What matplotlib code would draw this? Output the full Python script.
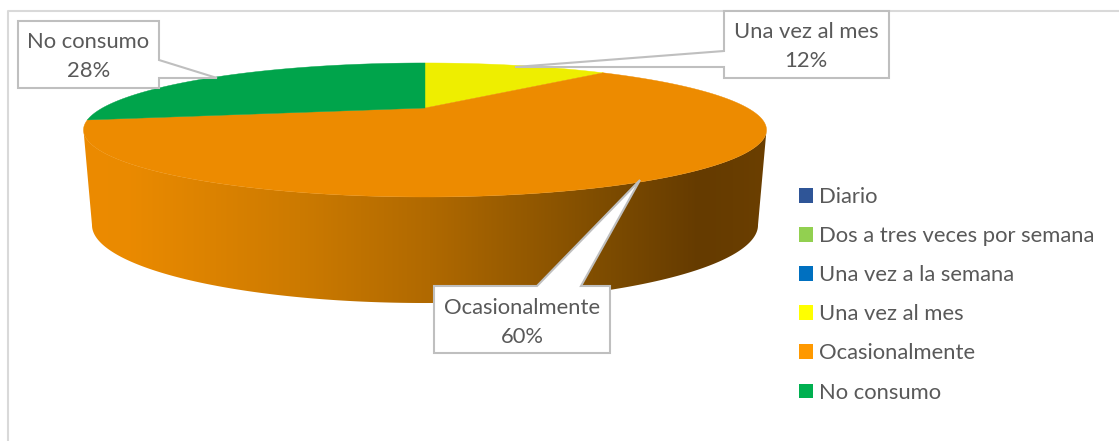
import numpy as np
import matplotlib
matplotlib.use('Agg')
import matplotlib.pyplot as plt
from matplotlib.patches import Polygon, Patch

plt.rcParams['font.family'] = ['Lato', 'DejaVu Sans']

categories = ['Diario', 'Dos a tres veces por semana', 'Una vez a la semana',
              'Una vez al mes', 'Ocasionalmente', 'No consumo']
values = [0, 0, 0, 12, 60, 28]
legend_colors = ['#2F5597', '#92D050', '#0070C0', '#FFFF00', '#FF9900', '#00B050']
top_colors = ['#2F5597', '#92D050', '#0070C0', '#EEEE00', '#ED8B00', '#00A44B']

# gradient of the pie wall, left to right
wall_x = [84, 130, 300, 430, 600, 700, 767]
wall_rgb = np.array([[236, 139, 0], [234, 138, 0], [204, 122, 0], [176, 105, 0],
                     [127, 77, 0], [101, 59, 0], [107, 63, 0]]) / 255

TEXT = '#595959'
EDGE = '#BFBFBF'
FS = 15.8

fig = plt.figure(figsize=(11.19, 4.41), dpi=100)
ax = fig.add_axes([0, 0, 1, 1])
ax.set_xlim(0, 1119)
ax.set_ylim(441, 0)
ax.axis('off')

# chart frame
ax.plot([8, 8, 1119], [441, 11, 11], color='#D9D9D9', lw=1.5, zorder=1)


def project(frac, cy, a, b, k):
    # frac = share of the circle, clockwise from the far point
    ang = 2 * np.pi * np.asarray(frac)
    x, y = np.sin(ang), np.cos(ang)
    d = 1 + k * y
    return 425 + a * x / d, cy - b * y / d


top = dict(cy=108, a=322.6, b=59.8, k=0.328)
bot = dict(cy=208, a=325, b=74.3, k=0.218)

# wall: front part of the top rim, then front part of the bottom rim
s = np.linspace(0, 1, 1441)
tx, ty = project(s, **top)
bx, by = project(s, **bot)
i0, i1 = np.argmax(tx), np.argmin(tx)
j0, j1 = np.argmax(bx), np.argmin(bx)
wall_pts = np.vstack([np.column_stack([tx[i0:i1 + 1], ty[i0:i1 + 1]]),
                      np.column_stack([bx[j0:j1 + 1], by[j0:j1 + 1]])[::-1]])
wall = Polygon(wall_pts, closed=True, fc='none', ec='none', zorder=2)
ax.add_patch(wall)
grad_x = np.linspace(80, 770, 345)
grad = np.stack([np.interp(grad_x, wall_x, wall_rgb[:, c]) for c in range(3)], axis=1)[None, :, :]
im = ax.imshow(grad, extent=[80, 770, 310, 100], aspect='auto', zorder=2, interpolation='bilinear')
im.set_clip_path(wall)
ax.set_xlim(0, 1119)
ax.set_ylim(441, 0)

# top face
total = sum(values)
start = 0
for v, c in zip(values, top_colors):
    if v == 0:
        continue
    f = np.linspace(start, start + v / total, 300)
    px, py = project(f, **top)
    ax.fill(np.r_[425, px], np.r_[top['cy'], py], color=c, lw=0.3, zorder=3)
    start += v / total


def callout(pts, text, xc, yc):
    ax.add_patch(Polygon(pts, closed=True, fc='white', ec=EDGE, lw=1.5, zorder=4, joinstyle='miter'))
    ax.text(xc, yc, text, ha='center', va='center', fontsize=FS, color=TEXT,
            linespacing=1.52, zorder=5)


label = dict(zip(categories, values))
callout([(18, 21), (159, 21), (159, 60), (217, 78), (159, 78), (159, 88), (18, 88)],
        f"No consumo\n{label['No consumo']}%", 88.5, 56.5)
callout([(724, 11), (889, 11), (889, 78), (724, 78), (724, 67), (515, 67), (724, 51)],
        f"Una vez al mes\n{label['Una vez al mes']}%", 806, 46.5)
callout([(434, 286), (537, 286), (640, 180), (581, 286), (610, 286), (610, 353), (434, 353)],
        f"Ocasionalmente\n{label['Ocasionalmente']}%", 522, 322.5)

handles = [Patch(fc=c, ec='none') for c in legend_colors]
square = 14 / (FS * 100 / 72)
leg = ax.legend(handles, categories, loc='upper left', bbox_to_anchor=(792 / 1119, 1 - 180.5 / 441),
                frameon=False, fontsize=FS, labelcolor=TEXT, handlelength=square,
                handleheight=square, handletextpad=0.3, labelspacing=0.87,
                borderpad=0.3, borderaxespad=0)
leg.set_zorder(6)

fig.savefig('out.png', dpi=100)
